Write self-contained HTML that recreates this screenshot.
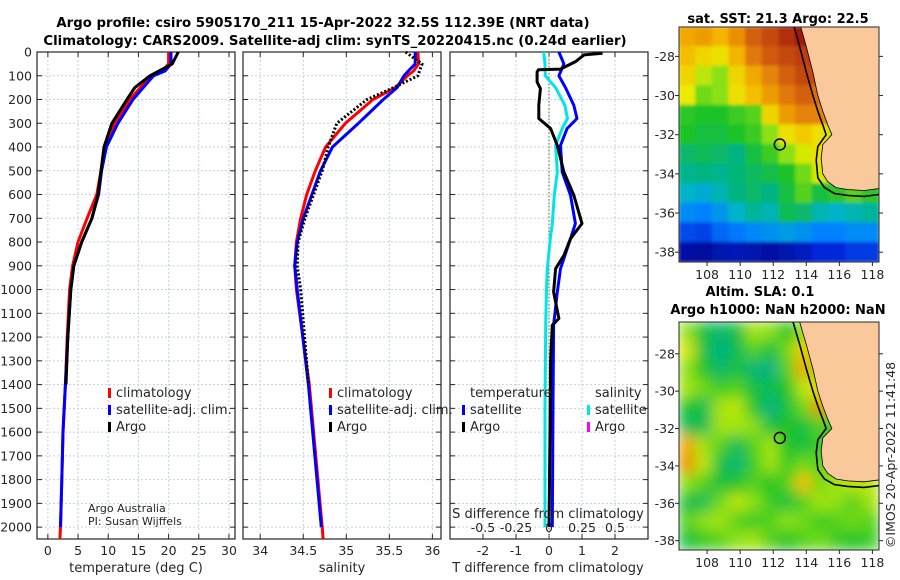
<!DOCTYPE html>
<html><head><meta charset="utf-8"><style>
html,body{margin:0;padding:0;background:#fff;}
svg{display:block;font-family:"DejaVu Sans","Liberation Sans",sans-serif;}
</style></head><body>
<svg id="fig" width="900" height="580" viewBox="0 0 900 580" xmlns="http://www.w3.org/2000/svg">
<g id="layer"></g>
</svg>
<script>
// ---- profile data ----
const depthT = [0,50,80,100,150,200,300,400,500,600,700,800,900,1000,1200,1400,1600,1800,2000];
const tempClim = [20,20,19,17.2,15.3,13.6,11.1,9.5,8.8,8.1,6.5,5.0,4.1,3.6,3.2,2.9,2.5,2.3,2.1];
const tempSat = [20.4,20.4,19.4,17.5,15.8,14.1,11.6,9.7,8.9,8.4,7.3,5.6,4.3,3.8,3.3,2.9,2.5,2.3,2.1];
const depthArgoT = [0,50,100,150,200,300,400,500,600,700,800,900,1000,1200,1400];
const tempArgo = [21.6,20.6,16.9,14.4,13.1,10.6,9.3,8.8,8.3,7.3,5.6,4.3,3.8,3.3,3.0];
const depthS = [0,50,80,100,150,200,300,400,500,600,700,800,900,1000,1400,2000];
const salClim = [35.83,35.84,35.78,35.71,35.57,35.31,34.99,34.76,34.64,34.54,34.47,34.42,34.40,34.42,34.57,34.72];
const salSat = [35.80,35.80,35.72,35.67,35.59,35.43,35.14,34.84,34.70,34.60,34.50,34.43,34.40,34.43,34.56,34.71];
const depthArgoS = [0,30,50,100,150,200,300,400,500,600,700,800,900,1000,1400];
const salArgo = [35.69,35.80,35.88,35.83,35.55,35.24,34.89,34.79,34.72,34.62,34.52,34.44,34.43,34.47,34.56];
const depthDT = [5,12,40,72,75,84,126,154,224,280,322,393,505,603,722,786,856,912,1010,1122,1150,1300,1600,2000];
const dTArgo = [1.62,1.06,0.81,0.35,-0.32,-0.36,-0.36,-0.26,-0.31,-0.31,0.05,0.25,0.45,0.75,1.0,0.65,0.45,0.2,0.14,0.3,0.1,0.05,0.03,0.0];
const depthDS = [0,50,100,150,224,280,322,393,505,603,722,786,912,1010,1150,1500,2000];
const dTSat = [0.3,0.45,0.3,0.5,0.75,0.85,0.55,0.35,0.4,0.65,0.8,0.65,0.35,0.25,0.14,0.12,0.1];
const dSSat = [-0.04,-0.03,-0.028,0.05,0.12,0.14,0.1,0.05,0.063,0.04,0.025,0.01,-0.013,-0.02,-0.025,-0.03,-0.03];
const depthTicks = [0,100,200,300,400,500,600,700,800,900,1000,1100,1200,1300,1400,1500,1600,1700,1800,1900,2000];
const tempTicks = [0,5,10,15,20,25,30];
const salTicks = [34,34.5,35,35.5,36];
const dTTicks = [-2,-1,0,1,2];
const dSTicks = [-0.5,-0.25,0,0.25,0.5];
// ---- map data (rows north->south, cols west->east) ----
const sstGrid = [
[.72,.74,.70,.76,.84,.88,.93,.97,.97,.9,.9,.9],
[.68,.64,.62,.70,.80,.85,.88,.90,.90,.9,.9,.9],
[.64,.56,.52,.64,.72,.78,.84,.88,.88,.8,.9,.9],
[.60,.50,.52,.62,.68,.74,.80,.84,.82,.7,.9,.9],
[.45,.44,.44,.46,.48,.64,.74,.78,.78,.66,.9,.9],
[.44,.42,.42,.44,.46,.52,.62,.66,.62,.55,.9,.9],
[.38,.40,.38,.36,.42,.46,.52,.58,.62,.55,.6,.9],
[.35,.36,.35,.37,.39,.41,.44,.50,.58,.55,.58,.6],
[.30,.28,.32,.36,.38,.36,.42,.48,.42,.45,.48,.45],
[.22,.20,.24,.30,.34,.32,.40,.38,.32,.30,.32,.34],
[.14,.13,.17,.19,.21,.23,.25,.23,.20,.20,.22,.22],
[.04,.03,.05,.06,.05,.04,.05,.07,.10,.10,.12,.12]];
const slaGrid = [
[.52,.42,.38,.42,.54,.52,.44,.52,.6,.6,.6,.6],
[.58,.42,.36,.40,.48,.42,.50,.66,.56,.6,.6,.6],
[.52,.44,.38,.42,.37,.36,.48,.72,.50,.6,.6,.6],
[.54,.50,.46,.48,.42,.40,.44,.56,.62,.6,.6,.6],
[.44,.40,.54,.56,.44,.36,.42,.50,.76,.5,.6,.6],
[.40,.40,.54,.54,.52,.42,.44,.42,.48,.42,.6,.6],
[.72,.54,.48,.40,.48,.54,.44,.42,.46,.48,.56,.6],
[.76,.56,.42,.37,.46,.54,.46,.50,.48,.54,.56,.60],
[.52,.48,.42,.44,.48,.44,.48,.68,.50,.54,.56,.56],
[.42,.40,.50,.56,.52,.46,.42,.48,.54,.52,.48,.54],
[.48,.52,.54,.48,.46,.48,.52,.50,.46,.48,.50,.48],
[.42,.46,.48,.52,.54,.48,.44,.48,.50,.46,.44,.46]];
const coastLon = [113.6,114.0,114.4,114.7,115.0,115.3,115.55,115.0,114.9,115.0,115.3,115.8,116.5,117.5,118.4];
const coastLat = [-26.3,-27.5,-28.8,-30.0,-30.8,-31.5,-32.0,-32.5,-33.2,-34.0,-34.4,-34.7,-34.8,-34.85,-34.75];
const shelfLon = [113.2,113.6,114.0,114.4,114.7,115.0,115.2,114.7,114.6,114.7,115.1,115.7,116.5,117.5,118.4];
const shelfLat = [-26.3,-27.5,-28.8,-30.0,-30.8,-31.5,-32.0,-32.6,-33.3,-34.2,-34.7,-35.0,-35.1,-35.15,-35.05];
const argoLon = 112.4, argoLat = -32.5;
const lonTicks = [108,110,112,114,116,118];
const latTicks = [-28,-30,-32,-34,-36,-38];

const NS="http://www.w3.org/2000/svg";
const L=document.getElementById('layer');
function mk(tag,attrs,parent){const e=document.createElementNS(NS,tag);for(const k in attrs)e.setAttribute(k,attrs[k]);(parent||L).appendChild(e);return e;}
function txt(x,y,s,opts,parent){const e=mk('text',Object.assign({x:x,y:y,'font-size':12.5,fill:'#262626'},opts||{}),parent);e.textContent=s;return e;}

const yTop=52, yBot=539, dMax=2050;
const yD=d=>yTop+d*(yBot-yTop)/dMax;
const panels=[{x0:37,x1:235},{x0:243,x1:441},{x0:450,x1:648}];
const xT=v=>37+(v+1.8)*198/32.8;
const xS=v=>243+(v-33.8)*198/2.3;
const xDT=v=>450+(v+3)*198/6;
const xDS=v=>xDT(v*4);

function panelFrame(p,xfn,ticks,name){
  const g=mk('g',{});
  
  
  mk('rect',{x:p.x0,y:yTop,width:p.x1-p.x0,height:yBot-yTop,fill:'#fff'},g);
  depthTicks.forEach(d=>{mk('line',{x1:p.x0,x2:p.x1,y1:yD(d),y2:yD(d),stroke:'#c8cdea','stroke-width':1,'stroke-dasharray':'2,2'},g);
    mk('line',{x1:p.x0,x2:p.x0+5,y1:yD(d),y2:yD(d),stroke:'#262626'},g);mk('line',{x1:p.x1-5,x2:p.x1,y1:yD(d),y2:yD(d),stroke:'#262626'},g);});
  ticks.forEach(t=>{const x=xfn(t);mk('line',{x1:x,x2:x,y1:yTop,y2:yBot,stroke:'#c8cdea','stroke-width':1,'stroke-dasharray':'2,2'},g);
    mk('line',{x1:x,x2:x,y1:yBot-5,y2:yBot,stroke:'#262626'},g);mk('line',{x1:x,x2:x,y1:yTop,y2:yTop+5,stroke:'#262626'},g);});
  mk('rect',{x:p.x0,y:yTop,width:p.x1-p.x0,height:yBot-yTop,fill:'none',stroke:'#262626','stroke-width':1.2},g);
  return g;
}
function line(xs,ds,xfn,color,w,name,dash){
  const pts=xs.map((v,i)=>xfn(v).toFixed(1)+','+yD(ds[i]).toFixed(1)).join(' ');
  const e=mk('polyline',{points:pts,fill:'none',stroke:color,'stroke-width':w,'stroke-linejoin':'round'});
  if(dash)e.setAttribute('stroke-dasharray',dash);
  
  
  return e;
}
panelFrame(panels[0],xT,tempTicks,'temperature-panel');
panelFrame(panels[1],xS,salTicks,'salinity-panel');
panelFrame(panels[2],xDT,dTTicks,'difference-panel');

depthTicks.forEach(d=>{const t=txt(32,yD(d)+4.5,String(d),{'text-anchor':'end'});});
tempTicks.forEach(v=>{const t=txt(xT(v),555,String(v),{'text-anchor':'middle'});});
salTicks.forEach(v=>{const t=txt(xS(v),555,String(v),{'text-anchor':'middle'});});
dTTicks.forEach(v=>{const t=txt(xDT(v),555,String(v),{'text-anchor':'middle'});});
dSTicks.forEach(v=>{const t=txt(xDS(v),532,String(v),{'text-anchor':'middle'});});

line(tempClim.concat([2.0]),depthT.concat([2050]),xT,'#ff0000',3,'temp-climatology-line');
line(tempSat,depthT,xT,'#0000ff',3,'temp-satellite-line');
line(tempArgo,depthArgoT,xT,'#000000',3,'temp-argo-line');
line(salClim.concat([34.73]),depthS.concat([2050]),xS,'#ff0000',3,'sal-climatology-line');
line(salSat,depthS,xS,'#0000ff',3,'sal-satellite-line');
line(salArgo,depthArgoS,xS,'#000000',3,'sal-argo-line','2,2');
mk('line',{x1:xDT(0),x2:xDT(0),y1:yTop,y2:yBot,stroke:'#556b2f','stroke-width':1,'stroke-dasharray':'1.5,2'});
line(dSSat,depthDS,xDS,'#00e5e5',3,'sal-diff-satellite-line');
line(dTSat,depthDS,xDT,'#0000ff',3,'temp-diff-satellite-line');
line(dTArgo,depthDT,xDT,'#000000',3,'temp-diff-argo-line');

[[136,572,'temperature (deg C)','temperature-axis-title'],[342,572,'salinity','salinity-axis-title'],[548,572,'T difference from climatology','t-diff-axis-title'],[548,518,'S difference from climatology','s-diff-axis-title']].forEach(a=>{const t=txt(a[0],a[1],a[2],{'text-anchor':'middle','font-size':13});});

function legend(x,y,items,name){
  const g=mk('g',{});
  
  
  items.forEach((it,i)=>{const yy=y+i*17;
    if(it[1])mk('rect',{x:x,y:yy-9,width:3,height:10,fill:it[1]},g);
    txt(x+8,yy,it[0],{'font-size':13},g);});
}
legend(108,397,[['climatology','#ff0000'],['satellite-adj. clim.','#0000ff'],['Argo','#000000']],'temperature-legend');
legend(329,397,[['climatology','#ff0000'],['satellite-adj. clim.','#0000ff'],['Argo','#000000']],'salinity-legend');
legend(462,397,[['temperature',null],['satellite','#0000ff'],['Argo','#000000']],'diff-temp-legend');
legend(587,397,[['salinity',null],['satellite','#00e5e5'],['Argo','#ff00ff']],'diff-sal-legend');
txt(88,512,'Argo Australia',{'font-size':11});
txt(88,525,'PI: Susan Wijffels',{'font-size':11});

const t1=txt(323,27,'Argo profile: csiro 5905170_211 15-Apr-2022 32.5S 112.39E (NRT data)',{'text-anchor':'middle','font-weight':'bold','font-size':13.3,fill:'#000'});

const t2=txt(335,45,'Climatology: CARS2009. Satellite-adj clim: synTS_20220415.nc (0.24d earlier)',{'text-anchor':'middle','font-weight':'bold','font-size':13.3,fill:'#000'});


const stops=[[0,[0,0,130]],[0.1,[0,40,220]],[0.2,[0,130,255]],[0.3,[0,180,200]],[0.36,[0,180,130]],[0.44,[30,195,40]],[0.52,[140,225,20]],[0.6,[235,235,0]],[0.7,[245,180,0]],[0.8,[225,120,10]],[0.9,[190,60,10]],[1,[150,10,10]]];
function cmap(v){for(let i=1;i<stops.length;i++){if(v<=stops[i][0]){const a=stops[i-1],b=stops[i],f=(v-a[0])/(b[0]-a[0]);return 'rgb('+a[1].map((c,k)=>Math.round(c+(b[1][k]-c)*f)).join(',')+')';}}return 'rgb(150,10,10)';}

function drawMap(cfg){
  const g=mk('g',{});
  
  
  const mx=lon=>cfg.x0+(lon-106.3)*(cfg.x1-cfg.x0)/(118.4-106.3);
  const my=lat=>cfg.y0+(cfg.latTop-lat)*(cfg.y1-cfg.y0)/(cfg.latTop+38.5);
  const clipId='clip'+cfg.name;
  const cp=mk('clipPath',{id:clipId},g);mk('rect',{x:cfg.x0,y:cfg.y0,width:cfg.x1-cfg.x0,height:cfg.y1-cfg.y0},cp);
  const inner=mk('g',{'clip-path':'url(#'+clipId+')'},g);
  const cells=mk('g',cfg.blur?{filter:'url('+cfg.blur+')'}:{},inner);
  const rows=cfg.grid.length, cols=cfg.grid[0].length;
  const cw=(cfg.x1-cfg.x0)/cols, ch=(cfg.y1-cfg.y0)/rows;
  cfg.grid.forEach((row,r)=>row.forEach((v,c)=>{
    const e=mk('rect',{x:cfg.x0+c*cw-0.5,y:cfg.y0+r*ch-0.5,width:cw+1,height:ch+1,fill:cmap(v)},cells);
    
    
  }));
  let pts=coastLon.map((v,i)=>mx(v)+','+my(coastLat[i]));
  pts.push(mx(118.6)+','+my(coastLat[coastLat.length-1]));pts.push(mx(118.6)+','+my(-26));pts.push(mx(113.6)+','+my(-26));
  const land=mk('polygon',{points:pts.join(' '),fill:'#f9c99c',stroke:'#000','stroke-width':0.8},inner);
  
  mk('polyline',{points:shelfLon.map((v,i)=>mx(v)+','+my(shelfLat[i])).join(' '),fill:'none',stroke:'#000','stroke-width':1.6},inner);
  const c=mk('circle',{cx:mx(argoLon),cy:my(argoLat),r:5.5,fill:'none',stroke:'#000','stroke-width':1.5},inner);
  
  mk('rect',{x:cfg.x0,y:cfg.y0,width:cfg.x1-cfg.x0,height:cfg.y1-cfg.y0,fill:'none',stroke:'#262626','stroke-width':1},g);
  lonTicks.forEach(l=>{const x=mx(l);mk('line',{x1:x,x2:x,y1:cfg.y1,y2:cfg.y1+4,stroke:'#262626'},g);txt(x,cfg.y1+17,String(l),{'text-anchor':'middle'},g);});
  latTicks.forEach(l=>{const y=my(l);mk('line',{x1:cfg.x0-4,x2:cfg.x0,y1:y,y2:y,stroke:'#262626'},g);mk('line',{x1:cfg.x1,x2:cfg.x1+4,y1:y,y2:y,stroke:'#262626'},g);txt(cfg.x0-4,y+4.5,String(l),{'text-anchor':'end'},g);});
}
const defs=mk('defs',{});
const f=mk('filter',{id:'blur',x:'-5%',y:'-5%',width:'110%',height:'110%'},defs);mk('feGaussianBlur',{stdDeviation:7},f);
const f2=mk('filter',{id:'blur2',x:'-5%',y:'-5%',width:'110%',height:'110%'},defs);mk('feGaussianBlur',{stdDeviation:1.5},f2);
drawMap({name:'sst-map',grid:sstGrid,x0:679,x1:879,y0:27,y1:262,latTop:-26.5,blur:'#blur2'});
drawMap({name:'sla-map',grid:slaGrid,x0:679,x1:879,y0:322,y1:550,latTop:-26.3,blur:'#blur'});
const mt=txt(778,23,'sat. SST: 21.3 Argo: 22.5',{'text-anchor':'middle','font-weight':'bold','font-size':13,fill:'#000'});

const m2=txt(760,296,'Altim. SLA: 0.1',{'text-anchor':'middle','font-weight':'bold','font-size':13,fill:'#000'});

const m3=txt(778,314,'Argo h1000: NaN h2000: NaN',{'text-anchor':'middle','font-weight':'bold','font-size':13,fill:'#000'});

const cr=txt(0,0,'©IMOS 20-Apr-2022 11:41:48',{'text-anchor':'middle','font-size':12.5,transform:'translate(895,455) rotate(-90)'});

</script>
</body></html>
